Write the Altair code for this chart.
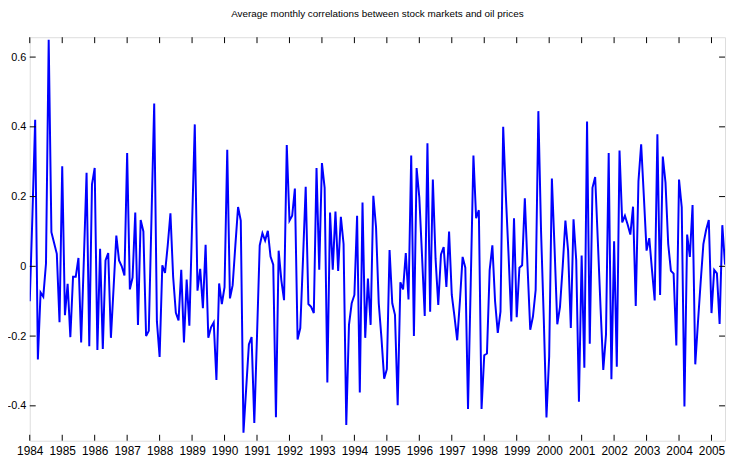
import altair as alt
import pandas as pd

start_year = 1984

# Monthly average correlations, Jan 1984 onwards
corr_1984_1986 = [-0.10, 0.15, 0.42, -0.267, -0.075, -0.087, 0.008, 0.65, 0.098, 0.067, 0.036, -0.16,
                  0.287, -0.14, -0.05, -0.203, -0.03, -0.03, 0.024, -0.218, 0.02, 0.268, -0.229, 0.235,
                  0.282, -0.24, 0.05, -0.237, 0.017, 0.038, -0.205, -0.06, 0.088, 0.017, 0.0, -0.026]
corr_1987_1989 = [0.325, -0.066, -0.032, 0.154, -0.168, 0.133, 0.10, -0.20, -0.185, 0.14, 0.467, -0.158,
                  -0.26, 0.003, -0.019, 0.06, 0.152, -0.03, -0.133, -0.155, -0.01, -0.218, -0.038, -0.17,
                  0.12, 0.407, -0.07, -0.007, -0.12, 0.062, -0.205, -0.175, -0.161, -0.326, -0.049, -0.108]
corr_1990_1992 = [-0.06, 0.334, -0.092, -0.054, 0.06, 0.17, 0.131, -0.477, -0.35, -0.224, -0.203, -0.449,
                  -0.20, 0.06, 0.095, 0.074, 0.102, 0.028, 0.005, -0.433, 0.045, -0.04, -0.097, 0.348,
                  0.131, 0.145, 0.223, -0.21, -0.177, 0.02, 0.228, -0.108, -0.116, -0.134, 0.282, -0.01]
corr_1993_1995 = [0.296, 0.225, -0.333, 0.154, -0.01, 0.157, -0.013, 0.142, 0.064, -0.455, -0.168, -0.106,
                  -0.082, 0.145, -0.362, 0.183, -0.205, -0.035, -0.168, 0.202, 0.112, -0.106, -0.205, -0.322,
                  -0.295, 0.047, -0.106, -0.139, -0.398, -0.046, -0.066, 0.038, -0.095, 0.318, -0.20, 0.282]
corr_1996_1998 = [0.197, 0.03, -0.142, 0.353, -0.13, 0.249, 0.022, -0.111, 0.034, 0.055, -0.059, 0.10,
                  -0.082, -0.144, -0.212, -0.10, 0.027, -0.004, -0.409, -0.05, 0.318, 0.138, 0.161, -0.409,
                  -0.255, -0.25, -0.011, 0.06, -0.10, -0.191, -0.13, 0.40, 0.20, 0.03, -0.158, 0.138]
corr_1999_2001 = [-0.146, -0.004, 0.003, 0.195, 0.0, -0.182, -0.144, -0.068, 0.445, 0.10, -0.15, -0.433,
                  -0.258, 0.252, 0.05, -0.166, -0.116, 0.0, 0.131, 0.045, -0.177, 0.135, 0.017, -0.388,
                  0.031, -0.291, 0.415, -0.222, 0.225, 0.256, 0.07, -0.12, -0.297, -0.196, 0.325, -0.324]
corr_2002_2004 = [0.072, -0.288, 0.332, 0.126, 0.145, 0.12, 0.091, 0.171, -0.114, 0.244, 0.35, 0.20,
                  0.045, 0.081, -0.01, -0.098, 0.379, -0.082, 0.315, 0.24, 0.064, -0.013, -0.021, -0.227,
                  0.249, 0.169, -0.402, 0.091, 0.027, 0.176, -0.281, -0.16, -0.045, 0.064, 0.104, 0.133]
corr_2005 = [-0.134, -0.01, -0.02, -0.165, 0.118, 0.005]

year_ticks = list(range(1984, 2006))
y_ticks = [-0.4, -0.2, 0, 0.2, 0.4, 0.6]
title_text = "Average monthly correlations between stock markets and oil prices"

values = (corr_1984_1986 + corr_1987_1989 + corr_1990_1992 + corr_1993_1995
          + corr_1996_1998 + corr_1999_2001 + corr_2002_2004 + corr_2005)
times = [start_year + i / 12 for i in range(len(values))]
df = pd.DataFrame({"t": times, "corr": values})
xt = pd.DataFrame({"t": year_ticks})
yt = pd.DataFrame({"corr": y_ticks})

W, H = 703, 408
TICK = 6
FONT = "Liberation Sans"

x_scale = alt.Scale(domain=[start_year, times[-1]], nice=False, zero=False)
y_scale = alt.Scale(domain=[-0.5, 0.657], nice=False, zero=False)

x_axis = alt.Axis(values=year_ticks, format="d", tickSize=0, domain=False, grid=False,
                  labelPadding=5, labelFont=FONT, labelFontSize=12, labelColor="black",
                  labelOverlap=False, labelFlush=False, title=None)
y_axis = alt.Axis(values=y_ticks, labelExpr="toString(datum.value)", tickSize=0, domain=False,
                  grid=False, labelPadding=4, labelFont=FONT, labelFontSize=11,
                  labelColor="black", labelOverlap=False, title=None)

line = alt.Chart(df).mark_line(color="#0000ff", strokeWidth=2, clip=True).encode(
    x=alt.X("t:Q", scale=x_scale, axis=x_axis),
    y=alt.Y("corr:Q", scale=y_scale, axis=y_axis),
)

tick_style = dict(color="black", strokeWidth=1)
bottom_ticks = alt.Chart(xt).mark_rule(**tick_style).encode(
    x=alt.X("t:Q", scale=x_scale, axis=x_axis), y=alt.value(H), y2=alt.value(H - TICK))
top_ticks = alt.Chart(xt).mark_rule(**tick_style).encode(
    x=alt.X("t:Q", scale=x_scale, axis=x_axis), y=alt.value(0), y2=alt.value(TICK))
left_ticks = alt.Chart(yt).mark_rule(**tick_style).encode(
    y=alt.Y("corr:Q", scale=y_scale, axis=y_axis), x=alt.value(0), x2=alt.value(TICK))
right_ticks = alt.Chart(yt).mark_rule(**tick_style).encode(
    y=alt.Y("corr:Q", scale=y_scale, axis=y_axis), x=alt.value(W - TICK), x2=alt.value(W))

chart = alt.layer(line, bottom_ticks, top_ticks, left_ticks, right_ticks).properties(
    width=W, height=H,
    title=alt.TitleParams(title_text, anchor="middle", font=FONT, fontSize=10, fontWeight="normal",
                          color="black", offset=18),
    autosize=alt.AutoSizeParams(type="none"),
    padding={"left": 22, "top": 27, "right": 2, "bottom": 20},
).configure_view(stroke="black", strokeWidth=1).configure(background="white")

chart.save("out.html", embed_options={"renderer": "svg", "actions": False})
